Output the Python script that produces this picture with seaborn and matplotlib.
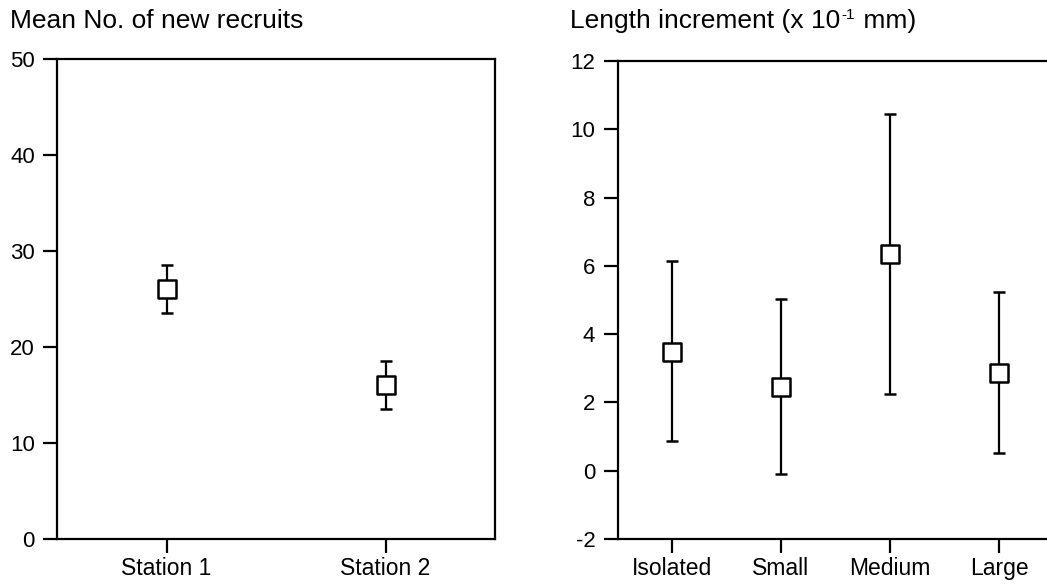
import numpy as np
import pandas as pd
import matplotlib
matplotlib.use("Agg")
import matplotlib.pyplot as plt
import seaborn as sns

# ---- data ----
stations = ["Station 1", "Station 2"]
recruits_mean = [26.0, 16.0]
recruits_upper = [28.5, 18.5]
recruits_lower = [23.5, 13.5]

groups = ["Isolated", "Small", "Medium", "Large"]
incr_mean = [3.48, 2.46, 6.34, 2.87]
incr_upper = [6.14, 5.03, 10.46, 5.22]
incr_lower = [0.88, -0.09, 2.26, 0.52]

left_yticks = [0, 10, 20, 30, 40, 50]
right_yticks = [-2, 0, 2, 4, 6, 8, 10, 12]

sns.set_theme(style="ticks")
plt.rcParams["font.family"] = ["Liberation Sans", "DejaVu Sans"]

fig = plt.figure(figsize=(10.47, 5.88), dpi=100)
ax1 = fig.add_axes([57 / 1047, 49 / 588, 438 / 1047, 480 / 588])
ax2 = fig.add_axes([617.5 / 1047, 49 / 588, 436 / 1047, 478 / 588])


def panel(ax, cats, mean, lower, upper, ylim, yticks):
    x = np.arange(len(cats))
    mean = np.asarray(mean)
    yerr = np.vstack([mean - np.asarray(lower), np.asarray(upper) - mean])
    ax.errorbar(x, mean, yerr=yerr, fmt="none", ecolor="black",
                elinewidth=1.6, capsize=4.5, capthick=1.8, zorder=2)
    df = pd.DataFrame({"x": x, "y": mean})
    sns.scatterplot(data=df, x="x", y="y", ax=ax, marker="s", s=150,
                    facecolor="white", edgecolor="black", linewidth=1.8,
                    zorder=3, legend=False)
    ax.set_xlim(-0.5, len(cats) - 0.5)
    ax.set_ylim(*ylim)
    ax.set_xticks(x)
    ax.set_xticklabels(cats, fontsize=16.5)
    ax.set_yticks(yticks)
    ax.set_yticklabels([str(t) for t in yticks], fontsize=16)
    ax.set_xlabel("")
    ax.set_ylabel("")
    for sp in ax.spines.values():
        sp.set_visible(True)
        sp.set_linewidth(1.6)
        sp.set_color("black")
    ax.tick_params(axis="both", direction="out", length=10, width=1.6,
                   color="black", labelcolor="black")
    ax.tick_params(axis="y", pad=6)
    ax.tick_params(axis="x", pad=3)
    ax.set_facecolor("white")


panel(ax1, stations, recruits_mean, recruits_lower, recruits_upper,
      (0, 50), left_yticks)
panel(ax2, groups, incr_mean, incr_lower, incr_upper, (-2, 12), right_yticks)

title_size = 19
base_y = 1 - 28 / 588
fig.text(10 / 1047, base_y, "Mean No. of new recruits",
         fontsize=title_size, va="baseline", ha="left", color="black")

renderer = fig.canvas.get_renderer()
t1 = fig.text(570 / 1047, base_y, "Length increment (x 10",
              fontsize=title_size, va="baseline", ha="left", color="black")
x1 = t1.get_window_extent(renderer).x1
t2 = fig.text((x1 + 1) / 1047, base_y + 9 / 588, "-1",
              fontsize=11, va="baseline", ha="left", color="black")
x2 = t2.get_window_extent(renderer).x1
fig.text((x2 + 1) / 1047, base_y, " mm)",
         fontsize=title_size, va="baseline", ha="left", color="black")

fig.savefig("out.png", dpi=100, facecolor="white")
